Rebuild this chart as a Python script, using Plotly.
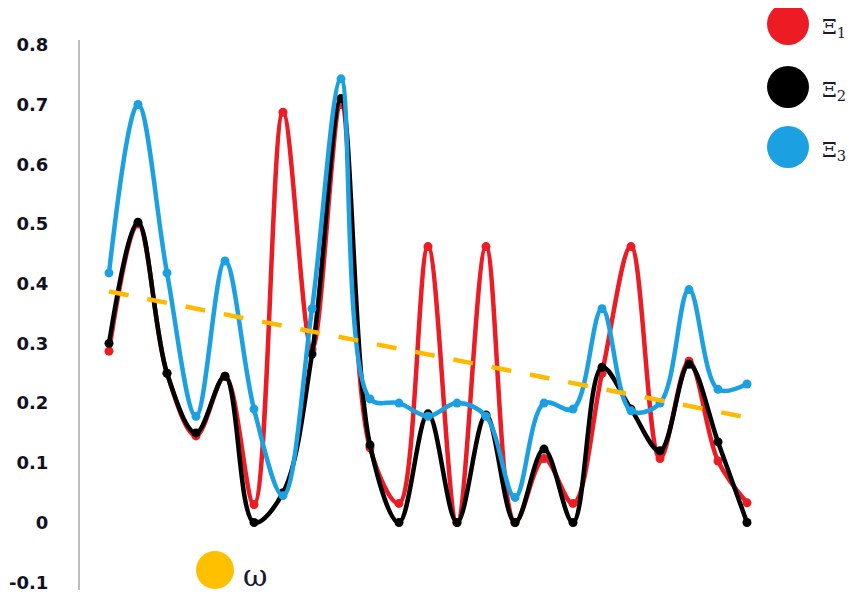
import numpy as np
import plotly.graph_objects as go

# --- Data ---
x_idx = list(range(1, 24))

xi1 = [0.287, 0.50, 0.25, 0.145, 0.245, 0.03, 0.687, 0.29, 0.70, 0.125, 0.032, 0.462,
       0.0, 0.462, 0.0, 0.107, 0.032, 0.25, 0.462, 0.107, 0.27, 0.103, 0.033]
xi2 = [0.30, 0.503, 0.25, 0.15, 0.245, 0.0, 0.05, 0.282, 0.71, 0.13, 0.0, 0.182,
       0.0, 0.18, 0.0, 0.123, 0.0, 0.26, 0.19, 0.12, 0.265, 0.135, 0.0]
xi3 = [0.418, 0.70, 0.418, 0.178, 0.438, 0.19, 0.045, 0.358, 0.743, 0.207, 0.20, 0.178,
       0.20, 0.178, 0.042, 0.20, 0.19, 0.358, 0.187, 0.20, 0.39, 0.223, 0.232]

y_tickvals = [-0.1, 0, 0.1, 0.2, 0.3, 0.4, 0.5, 0.6, 0.7, 0.8]
y_ticktext = ["-0.1", "0", "0.1", "0.2", "0.3", "0.4", "0.5", "0.6", "0.7", "0.8"]

series_names = ["Ξ<sub>1</sub>", "Ξ<sub>2</sub>", "Ξ<sub>3</sub>"]
series_colors = ["#ED1C24", "#000000", "#1BA1E2"]
trend_name = "ω"
trend_color = "#FFBA00"

# The page body adds an 8px offset, so the figure is drawn 8px in from the window.
OFF = 8
W, H = 855 - OFF, 599 - OFF
ML, MR, MT, MB = 80 - OFF, 0, 40 - OFF, 9


def px_x(p):
    """Window pixel x -> paper x."""
    return (p - OFF - ML) / (W - ML - MR)


def px_y(p):
    """Window pixel y -> paper y."""
    return (H - MB - (p - OFF)) / (H - MT - MB)


fig = go.Figure()

# Smoothed series with markers.
for vals, color in zip([xi1, xi2, xi3], series_colors):
    fig.add_trace(go.Scatter(
        x=x_idx,
        y=vals,
        mode="lines+markers",
        line=dict(color=color, width=4.5, shape="spline", smoothing=1.0),
        marker=dict(color=color, size=9),
        showlegend=False,
        cliponaxis=False,
    ))

# Linear trend of the third series.
slope, icpt = np.polyfit(x_idx, xi3, 1)
trend_x = [x_idx[0], x_idx[-1]]
trend_y = [slope * v + icpt for v in trend_x]
fig.add_trace(go.Scatter(
    x=trend_x,
    y=trend_y,
    mode="lines",
    line=dict(color=trend_color, width=4.5, dash="20px,19px"),
    showlegend=False,
))

# Hand-made legend: big dots plus labels.
legend_rows = [24, 87, 147]
shapes = []
annotations = []
for name, color, row in zip(series_names, series_colors, legend_rows):
    shapes.append(dict(
        type="circle", xref="paper", yref="paper",
        xsizemode="pixel", ysizemode="pixel",
        xanchor=px_x(788), yanchor=px_y(row),
        x0=-21, x1=21, y0=-21, y1=21,
        fillcolor=color, line=dict(width=0),
    ))
    annotations.append(dict(
        x=px_x(820), y=px_y(row + 4), xref="paper", yref="paper",
        text=name, showarrow=False, xanchor="left", yanchor="middle",
        font=dict(family="DejaVu Serif", size=21, color="#1a1a2e"),
    ))

shapes.append(dict(
    type="circle", xref="paper", yref="paper",
    xsizemode="pixel", ysizemode="pixel",
    xanchor=px_x(215), yanchor=px_y(570),
    x0=-19, x1=19, y0=-19, y1=19,
    fillcolor="#FFC000", line=dict(width=0),
))
annotations.append(dict(
    x=px_x(241), y=px_y(575), xref="paper", yref="paper",
    text=trend_name, showarrow=False, xanchor="left", yanchor="middle",
    font=dict(family="DejaVu Serif", size=30, color="#1a1a2e"),
))

fig.update_layout(
    width=W,
    height=H,
    margin=dict(l=ML, r=MR, t=MT, b=MB),
    plot_bgcolor="white",
    paper_bgcolor="white",
    xaxis=dict(
        range=[1 + (80 - 109) / 29, 1 + (855 - 109) / 29],
        visible=False,
        showgrid=False,
        zeroline=False,
    ),
    yaxis=dict(
        range=[-0.113, 0.808],
        tickvals=y_tickvals,
        ticktext=y_ticktext,
        showgrid=False,
        zeroline=False,
        showline=True,
        linecolor="#BDBDBD",
        linewidth=2,
        ticks="",
        ticklabelstandoff=26,
        tickfont=dict(family="DejaVu Sans", size=18, color="#111122", weight="bold"),
    ),
    shapes=shapes,
    annotations=annotations,
    showlegend=False,
)

fig.write_html("out.html")
